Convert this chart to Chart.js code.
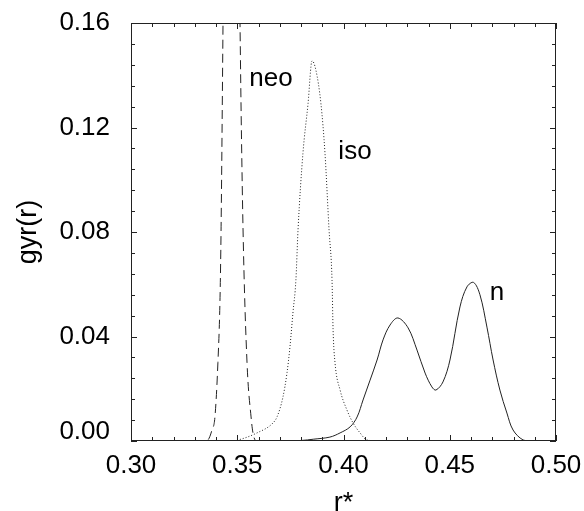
<!DOCTYPE html>
<html>
<head>
<meta charset="utf-8">
<script src="https://cdn.jsdelivr.net/npm/chart.js@4/dist/chart.umd.min.js"></script>
<style>
  body { margin: 0; background: #fff; }
  #wrap { width: 584px; height: 511px; }
</style>
</head>
<body>
<div id="wrap"><canvas id="gyrChart"></canvas></div>
<script>
// radial distribution per isomer: r* positions and gyr(r) values
const rNeo = [0.330, 0.3345, 0.3362, 0.3381, 0.3395, 0.3409, 0.3419, 0.3424, 0.3433, 0.3450, 0.3472, 0.3495, 0.3513, 0.3527, 0.3546, 0.3565, 0.3574, 0.3590, 0.365];
const gNeo = [0.0, 0.0, 0.0004, 0.0042, 0.0092, 0.030, 0.055, 0.082, 0.160, 0.325, 0.440, 0.315, 0.160, 0.082, 0.030, 0.0092, 0.0031, 0.0, 0.0];

const rIso = [0.340, 0.3470, 0.3504, 0.3593, 0.3668, 0.3687, 0.3715, 0.3734, 0.3748, 0.3762, 0.3776, 0.3786, 0.3809, 0.3833, 0.3852, 0.3870, 0.3894, 0.3913, 0.3932, 0.3946, 0.3951, 0.3960, 0.3984, 0.4016, 0.4045, 0.4078, 0.4110, 0.418];
const gIso = [0.0, 0.0, 0.0004, 0.0031, 0.0069, 0.0092, 0.0168, 0.026, 0.036, 0.049, 0.0616, 0.0808, 0.110, 0.129, 0.1455, 0.142, 0.129, 0.110, 0.0808, 0.0616, 0.0425, 0.030, 0.0195, 0.0119, 0.0069, 0.0031, 0.0004, 0.0];

const rN = [0.370, 0.380, 0.386, 0.3936, 0.3984, 0.4031, 0.4064, 0.4092, 0.4125, 0.4158, 0.4186, 0.4219, 0.4256, 0.4304, 0.4346, 0.4384, 0.4416, 0.4435, 0.4468, 0.4501, 0.4548, 0.4581, 0.4612, 0.4642, 0.4675, 0.4704, 0.4736, 0.4769, 0.4798, 0.4845, 0.4890, 0.500];
const gN = [0.0, 0.0002, 0.0007, 0.0015, 0.0031, 0.0054, 0.0092, 0.0157, 0.0233, 0.031, 0.0387, 0.0444, 0.0471, 0.0433, 0.0348, 0.026, 0.0207, 0.0195, 0.0226, 0.031, 0.0513, 0.059, 0.0607, 0.056, 0.0436, 0.031, 0.0195, 0.0107, 0.0042, 0.0004, 0.0, 0.0];

// curve labels
const tagText = ['neo', 'iso', 'n'];
const tagR = [0.3659, 0.4054, 0.4722];
const tagG = [0.1386, 0.1106, 0.0567];

const xTicks = [0.30, 0.35, 0.40, 0.45, 0.50];
const yTicks = [0.00, 0.04, 0.08, 0.12, 0.16];

const ink = '#222';
const fontFamily = "'Liberation Sans', Arial, Helvetica, sans-serif";
const tickFont = '26px ' + fontFamily;

function pts(xs, ys) {
    return xs.map((x, i) => ({ x: x, y: ys[i] }));
}

// box frame with inward ticks on all four sides, plus the curve names
const frameTicks = {
    id: 'frameTicks',
    afterDatasetsDraw(chart) {
        const { ctx, chartArea: a, scales: { x, y } } = chart;
        ctx.save();
        ctx.strokeStyle = ink;
        ctx.lineWidth = 1;
        ctx.strokeRect(a.left + 0.5, a.top + 0.5, a.right - a.left - 1, a.bottom - a.top - 1);
        ctx.beginPath();
        for (let i = 0; i <= 20; i++) {
            const px = Math.round(x.getPixelForValue(0.30 + i * 0.01)) + 0.5;
            const len = i % 5 === 0 ? 6 : 4;
            ctx.moveTo(px, a.bottom); ctx.lineTo(px, a.bottom - len);
            ctx.moveTo(px, a.top); ctx.lineTo(px, a.top + len);
        }
        for (let i = 0; i <= 20; i++) {
            const py = Math.round(y.getPixelForValue(i * 0.008)) + 0.5;
            const len = i % 5 === 0 ? 6 : 4;
            ctx.moveTo(a.left, py); ctx.lineTo(a.left + len, py);
            ctx.moveTo(a.right, py); ctx.lineTo(a.right - len, py);
        }
        ctx.stroke();

        ctx.fillStyle = '#000';
        ctx.font = tickFont;
        // the zero label sits a little above its tick, clear of the x labels
        ctx.textAlign = 'right';
        ctx.textBaseline = 'middle';
        ctx.fillText(yTicks[0].toFixed(2), a.left - 21, y.getPixelForValue(yTicks[0]) - 9);

        ctx.textAlign = 'center';
        tagText.forEach((t, i) => {
            ctx.fillText(t, x.getPixelForValue(tagR[i]), y.getPixelForValue(tagG[i]));
        });
        ctx.restore();
    }
};

const ctx = document.getElementById('gyrChart').getContext('2d');
new Chart(ctx, {
    type: 'line',
    data: {
        datasets: [{
            label: 'neo',
            data: pts(rNeo, gNeo),
            borderColor: ink,
            borderWidth: 1,
            borderDash: [9, 5],
            cubicInterpolationMode: 'monotone'
        }, {
            label: 'iso',
            data: pts(rIso, gIso),
            borderColor: ink,
            borderWidth: 1,
            borderDash: [1, 2],
            cubicInterpolationMode: 'monotone'
        }, {
            label: 'n',
            data: pts(rN, gN),
            borderColor: ink,
            borderWidth: 1,
            tension: 0.35
        }]
    },
    options: {
        responsive: true,
        maintainAspectRatio: false,
        animation: false,
        layout: { padding: { top: 23, right: 28, bottom: 0, left: 0 } },
        elements: { point: { radius: 0 } },
        plugins: {
            legend: { display: false },
            tooltip: { enabled: false }
        },
        scales: {
            x: {
                type: 'linear',
                min: 0.30,
                max: 0.50,
                afterBuildTicks: s => { s.ticks = xTicks.map(v => ({ value: v })); },
                afterFit: s => {
                    s.height = 70;
                    s.paddingLeft = 0;
                    s.paddingRight = 0;
                },
                grid: { display: false, drawTicks: false },
                border: { display: false },
                ticks: {
                    callback: v => v.toFixed(2),
                    color: '#000',
                    font: { family: fontFamily, size: 26 },
                    padding: 9,
                    maxRotation: 0,
                    autoSkip: false
                },
                title: {
                    display: true,
                    text: 'r*',
                    color: '#000',
                    font: { family: fontFamily, size: 27, lineHeight: 0.55 },
                    padding: 0
                }
            },
            y: {
                min: 0,
                max: 0.16,
                afterBuildTicks: s => { s.ticks = yTicks.map(v => ({ value: v })); },
                afterFit: s => {
                    s.width = 131;
                    s.paddingTop = 0;
                    s.paddingBottom = 0;
                },
                grid: { display: false, drawTicks: false },
                border: { display: false },
                ticks: {
                    callback: v => (v === 0 ? '' : v.toFixed(2)),
                    color: '#000',
                    font: { family: fontFamily, size: 26 },
                    padding: 21
                },
                title: {
                    display: true,
                    text: 'gyr(r)',
                    color: '#000',
                    font: { family: fontFamily, size: 27, lineHeight: 1.2 },
                    padding: { top: 12, bottom: 0 }
                }
            }
        }
    },
    plugins: [frameTicks]
});
</script>
</body>
</html>
